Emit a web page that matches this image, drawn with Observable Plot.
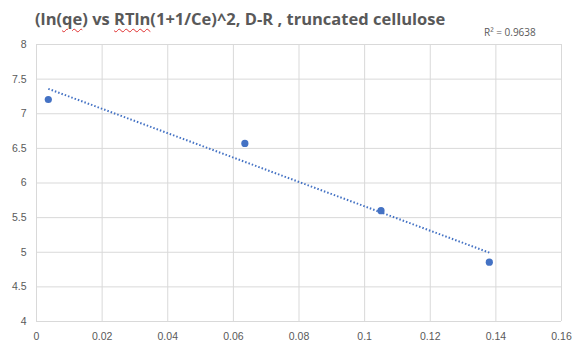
<!DOCTYPE html>
<html><head><meta charset="utf-8">
<script src="https://cdn.jsdelivr.net/npm/d3@7"></script>
<script src="https://cdn.jsdelivr.net/npm/@observablehq/plot@0.6"></script>
<style>
body{margin:0;background:#fff;}
#wrap{position:relative;width:577px;height:347px;font-family:"Open Sans","Liberation Sans",sans-serif;}
#title{position:absolute;left:35px;top:7px;font-size:16.5px;font-weight:700;color:#595959;white-space:nowrap;letter-spacing:0px;}
#title .sp{text-decoration:underline wavy #e03030;text-decoration-thickness:1px;text-underline-offset:3px;}
#r2{position:absolute;left:484px;top:25px;font-size:10px;color:#595959;white-space:nowrap;}
</style></head>
<body><div id="wrap">
<div id="title">(ln(<span class="sp">qe</span>) vs <span class="sp">RTln</span>(1+1/Ce)^2, D-R , truncated cellulose</div>
<div id="r2">R² = 0.9638</div>
</div>
<script>
const xValues = [0.0036, 0.0635, 0.105, 0.138];
const yValues = [7.206, 6.572, 5.601, 4.856];
const xTicks = [0, 0.02, 0.04, 0.06, 0.08, 0.1, 0.12, 0.14, 0.16];
const yTicks = [4, 4.5, 5, 5.5, 6, 6.5, 7, 7.5, 8];

const data = xValues.map((x, i) => ({x, y: yValues[i]}));
const mx = d3.mean(xValues), my = d3.mean(yValues);
const slope = d3.sum(data, d => (d.x - mx) * (d.y - my)) / d3.sum(data, d => (d.x - mx) ** 2);
const icpt = my - slope * mx;
const xMin = d3.min(xValues), xMax = d3.max(xValues);
const trend = [{x: xMin, y: icpt + slope * xMin}, {x: xMax, y: icpt + slope * xMax}];

const fmt = d => String(+(+d).toFixed(2));

const chart = Plot.plot({
  width: 577, height: 347,
  marginTop: 44, marginBottom: 26, marginLeft: 36, marginRight: 16,
  style: {fontFamily: '"Liberation Sans", Arial, sans-serif', fontSize: "10.5px", color: "#595959", background: "#fff"},
  x: {domain: [0, 0.16]},
  y: {domain: [4, 8]},
  marks: [
    Plot.gridX(xTicks, {stroke: "#d9d9d9", strokeOpacity: 1, strokeWidth: 1}),
    Plot.gridY(yTicks, {stroke: "#d9d9d9", strokeOpacity: 1, strokeWidth: 1}),
    Plot.axisX(xTicks, {tickSize: 0, tickPadding: 11, label: null, fill: "#595959", tickFormat: fmt}),
    Plot.axisY(yTicks, {tickSize: 0, tickPadding: 10, label: null, fill: "#595959", tickFormat: fmt}),
    Plot.line(trend, {x: "x", y: "y", stroke: "#4472C4", strokeWidth: 2, strokeDasharray: "1.5,2", strokeLinecap: "butt"}),
    Plot.dot(data, {x: "x", y: "y", r: 3.6, fill: "#4472C4", stroke: "none"})
  ]
});
chart.style.position = "absolute";
chart.style.left = "0";
chart.style.top = "0";
const wrap = document.getElementById("wrap");
wrap.insertBefore(chart, wrap.firstChild);
</script>
</body></html>
